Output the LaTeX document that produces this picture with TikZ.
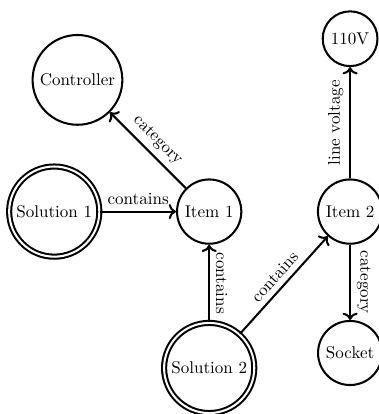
\documentclass[tikz,border=0pt]{standalone}
\usetikzlibrary{positioning, calc, arrows.meta}

\begin{document}
\begin{tikzpicture}[very thick,
    entity/.style={draw, circle},
    solution/.style={draw, circle, double, double distance=1.2pt}]
    \useasboundingbox (0,0) rectangle (7.81,8.55);

    % Entities
    \node[entity] (controller) at (1.60,6.90) {Controller};
    \node[entity] (item1) at (4.32,4.18) {Item 1};
    \node[entity] (item2) at (7.23,4.18) {Item 2};
    \node[entity] (volt) at (7.23,7.75) {110V};
    \node[entity] (socket) at (7.23,1.26) {Socket};

    % Solutions
    \node[solution] (sol1) at (1.12,4.18) {Solution 1};
    \node[solution] (sol2) at (4.32,0.95) {Solution 2};

    % Relations
    \draw[->] (sol1) -- node[above] {contains} (item1);
    \draw[->] (item1) -- node[above, sloped] {category} (controller);
    \draw[<-] (item1) -- node[above, sloped] {contains} (sol2);
    \draw[->] (sol2) -- node[above, sloped] {contains} (item2);
    \draw[->] (item2) -- node[above, sloped] {line voltage} (volt);
    \draw[->] (item2) -- node[above, sloped] {category} (socket);
\end{tikzpicture}
\end{document}
